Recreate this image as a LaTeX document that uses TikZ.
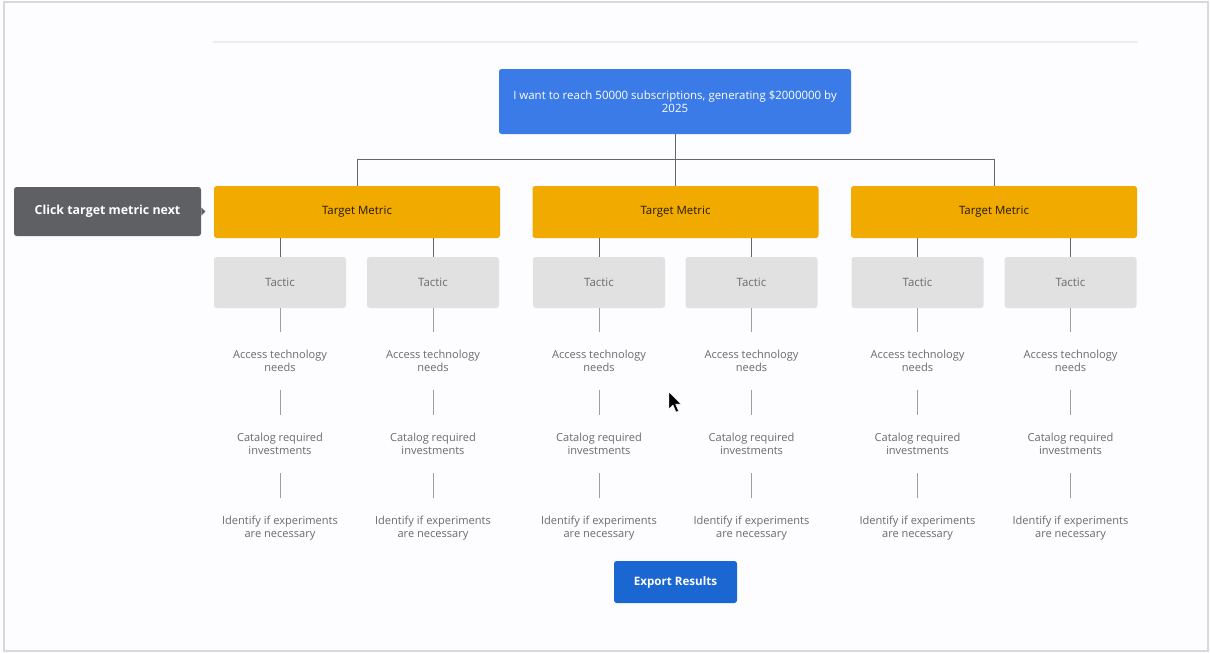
\documentclass[tikz,border=0pt]{standalone}
\usepackage{fontspec}
\setmainfont{Open Sans}
\definecolor{goalblue}{HTML}{3B7BE8}
\definecolor{metricgold}{HTML}{F1AA00}
\definecolor{tacticgray}{HTML}{E1E1E2}
\definecolor{tipgray}{HTML}{5F6064}
\definecolor{exportblue}{HTML}{1B67D1}
\definecolor{stepgray}{HTML}{6A6B6E}
\definecolor{pagebg}{HTML}{FDFCFE}
\tikzset{
    goalbox/.style={fill=goalblue, rounded corners=2pt, minimum width=264pt, minimum height=48.75pt,
        text=white, align=center, font=\fontsize{8.6}{9.5}\selectfont},
    metricbox/.style={fill=metricgold, rounded corners=2pt, minimum width=214.5pt, minimum height=39pt,
        text=black!85!metricgold, font=\fontsize{8.6}{9}\selectfont},
    tacticbox/.style={fill=tacticgray, rounded corners=2pt, minimum width=99pt, minimum height=38.25pt,
        text=stepgray, font=\fontsize{8.6}{9}\selectfont},
    stepnote/.style={align=center, text=stepgray, inner sep=0pt, outer ysep=14pt,
        font=\fontsize{8.3}{9.75}\selectfont},
    tipbox/.style={fill=tipgray, rounded corners=2pt, minimum width=140.25pt, minimum height=36.75pt,
        text=white, font=\fontsize{9.3}{11}\selectfont\bfseries},
    exportbtn/.style={fill=exportblue, rounded corners=2pt, minimum width=92.25pt, minimum height=31.5pt,
        text=white, font=\fontsize{8.7}{9}\selectfont\bfseries},
    tree/.style={draw=black!60, line width=0.7pt},
    stepline/.style={draw=black!38, line width=0.7pt}
}
\begin{document}
\begin{tikzpicture}[x=0.75pt, y=-0.75pt]
    \useasboundingbox (0,0) rectangle (1210,653);
    \fill[pagebg] (0,0) rectangle (1210,653);
    \draw[black!15, line width=1.2pt] (4,2) rectangle (1208,651);
    \draw[black!7, line width=1.5pt] (213,42) -- (1138,42);
    % goal and target metrics
    \node[goalbox] (goal) at (675,101.5) {I want to reach 50000 subscriptions, generating \$2000000 by\\2025};
    \foreach \i/\x in {1/357,2/675.5,3/994}
    {
        \node[metricbox] (tm\i) at (\x,212) {Target Metric};
        \draw[tree] (goal.south) -- ++(0,25) -| (tm\i.north);
    }
    % tactics with their steps
    \foreach \j/\x/\i in {1/280/1,2/433/1,3/599/2,4/751.5/2,5/917.5/3,6/1070.5/3}
    {
        \node[tacticbox] (tac\j) at (\x,282.5) {Tactic};
        \draw[tree] (tac\j.north) -- (tac\j.north |- tm\i.south);
        \node[stepnote] (acc\j) at (\x,361) {Access technology\\needs};
        \node[stepnote] (cat\j) at (\x,444) {Catalog required\\investments};
        \node[stepnote] (idf\j) at (\x,528.5) {Identify if experiments\\are necessary};
        \draw[stepline] (tac\j.south) -- (acc\j);
        \draw[stepline] (acc\j) -- (cat\j);
        \draw[stepline] (cat\j) -- (idf\j);
    }
    % hint and button
    \node[tipbox] (tip) at (107.5,211.5) {Click target metric next};
    \fill[tipgray] (tip.east) ++(0,-4) -- ++(4,4) -- ++(-4,4) -- cycle;
    \node[exportbtn] (export) at (675.5,582) {Export Results};
    % mouse pointer
    \fill[black, draw=white, line width=0.3pt] (669,392) -- ++(0,17) -- ++(4,-4) -- ++(3,7)
        -- ++(2.5,-1) -- ++(-3,-7) -- ++(5.5,0) -- cycle;
\end{tikzpicture}
\end{document}
